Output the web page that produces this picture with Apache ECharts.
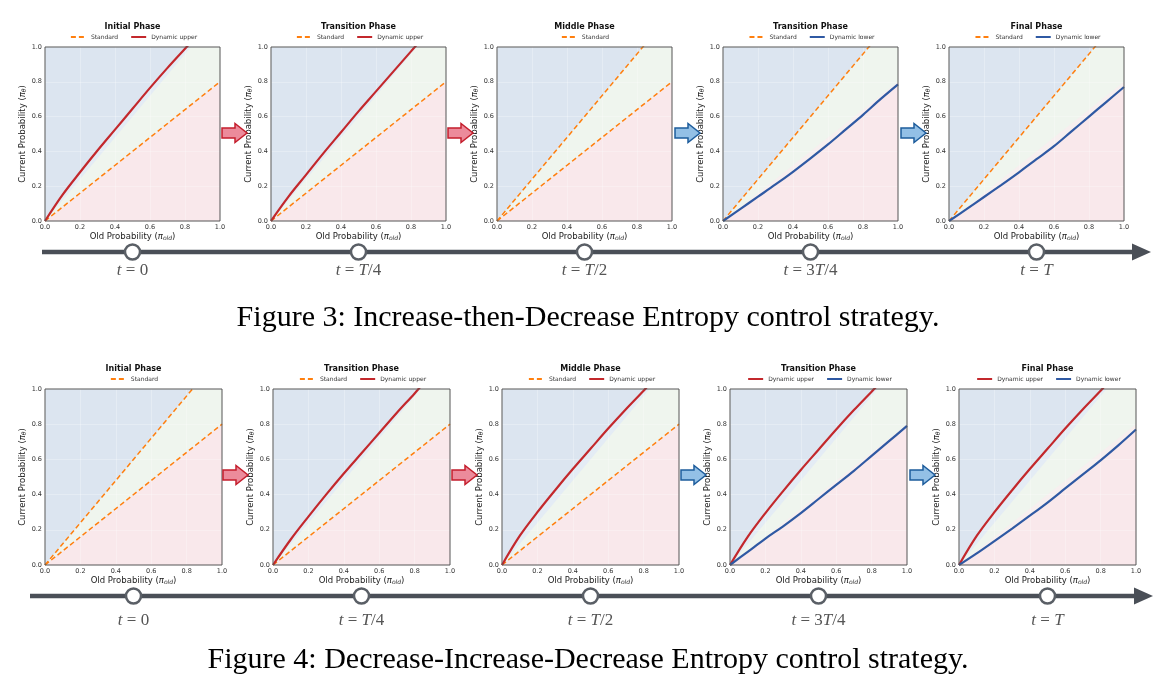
<!DOCTYPE html>
<html>
<head>
<meta charset="utf-8">
<title>Entropy control strategies</title>
<script src="https://cdn.jsdelivr.net/npm/echarts@6/dist/echarts.min.js"></script>
<style>
  html, body { margin: 0; padding: 0; background: #fff; }
  #main { width: 1170px; height: 693px; }
</style>
</head>
<body>
<div id="main"></div>
<script>
// x positions of the sampled curves (old probability)
var xs = [0, 0.1, 0.2, 0.3, 0.4, 0.5, 0.6, 0.7, 0.8, 0.9, 1.0];
// standard clip bounds, given by their end points at x = 0 and x = 1
var stdX = [0, 1];
var stdUpper = [0, 1.2];
var stdLower = [0, 0.8];

// dynamic upper bounds (red)
var upInitTop  = [0, 0.15, 0.28, 0.405, 0.525, 0.645, 0.765, 0.88, 0.99, 1.10, 1.2];
var upTransTop = [0, 0.14, 0.265, 0.39, 0.51, 0.63, 0.745, 0.86, 0.975, 1.09, 1.2];
var upTransBot = [0, 0.145, 0.275, 0.40, 0.52, 0.635, 0.75, 0.865, 0.975, 1.09, 1.2];
var upMidBot   = [0, 0.165, 0.30, 0.425, 0.545, 0.66, 0.775, 0.885, 0.99, 1.10, 1.2];
var upTrans2Bot = [0, 0.16, 0.295, 0.42, 0.54, 0.655, 0.77, 0.88, 0.985, 1.09, 1.2];
var upFinalBot = [0, 0.165, 0.30, 0.425, 0.545, 0.66, 0.775, 0.885, 0.99, 1.10, 1.2];

// dynamic lower bounds (blue)
var lowTransTop  = [0, 0.07, 0.14, 0.21, 0.283, 0.36, 0.44, 0.525, 0.61, 0.70, 0.785];
var lowFinalTop  = [0, 0.068, 0.138, 0.208, 0.28, 0.355, 0.43, 0.515, 0.60, 0.685, 0.77];
var lowTransBot  = [0, 0.075, 0.15, 0.22, 0.295, 0.375, 0.455, 0.535, 0.62, 0.705, 0.79];
var lowFinalBot  = [0, 0.066, 0.136, 0.207, 0.28, 0.355, 0.435, 0.515, 0.595, 0.68, 0.77];

var timeLabels = ['{i|t} = 0', '{i|t} = {i|T}/4', '{i|t} = {i|T}/2', '{i|t} = 3{i|T}/4', '{i|t} = {i|T}'];
var captions = [
  'Figure 3: Increase-then-Decrease Entropy control strategy.',
  'Figure 4: Decrease-Increase-Decrease Entropy control strategy.'
];

// panels: which bounds are drawn in each
var panels = [
  // Figure 3
  { title: 'Initial Phase', legend: ['Standard', 'Dynamic upper'], su: false, sl: true, up: upInitTop, low: null },
  { title: 'Transition Phase', legend: ['Standard', 'Dynamic upper'], su: false, sl: true, up: upTransTop, low: null },
  { title: 'Middle Phase', legend: ['Standard'], su: true, sl: true, up: null, low: null },
  { title: 'Transition Phase', legend: ['Standard', 'Dynamic lower'], su: true, sl: false, up: null, low: lowTransTop },
  { title: 'Final Phase', legend: ['Standard', 'Dynamic lower'], su: true, sl: false, up: null, low: lowFinalTop },
  // Figure 4
  { title: 'Initial Phase', legend: ['Standard'], su: true, sl: true, up: null, low: null },
  { title: 'Transition Phase', legend: ['Standard', 'Dynamic upper'], su: false, sl: true, up: upTransBot, low: null },
  { title: 'Middle Phase', legend: ['Standard', 'Dynamic upper'], su: false, sl: true, up: upMidBot, low: null },
  { title: 'Transition Phase', legend: ['Dynamic upper', 'Dynamic lower'], su: false, sl: false, up: upTrans2Bot, low: lowTransBot },
  { title: 'Final Phase', legend: ['Dynamic upper', 'Dynamic lower'], su: false, sl: false, up: upFinalBot, low: lowFinalBot }
];

// layout
var rows = [
  { lefts: [45, 271, 497, 723, 949], top: 47, w: 175, h: 174, titleTop: 23, legendTop: 34,
    lineY: 252, lineX0: 42, lineX1: 1134, tip: 1151, labelY: 271, capY: 318,
    arrows: [[222, 'r'], [448, 'r'], [675, 'b'], [901, 'b']], arrowY: 133 },
  { lefts: [45, 273, 502, 730, 959], top: 389, w: 177, h: 176, titleTop: 365, legendTop: 376,
    lineY: 596, lineX0: 30, lineX1: 1136, tip: 1153, labelY: 621, capY: 660,
    arrows: [[223, 'r'], [452, 'r'], [681, 'b'], [910, 'b']], arrowY: 475 }
];

var FONT = '"DejaVu Sans", sans-serif';
var SERIF = '"Liberation Serif", "Times New Roman", serif';
var C_BLUE_BG = '#dce5f0', C_BLUE_LT = '#e4ecf5', C_GREEN = '#eff5ee', C_PINK = '#f9e8eb', C_PINK_LT = '#f7efef';
var C_ORANGE = '#ff7f0e', C_RED = '#c3282c', C_BLUE = '#2f59a3';
var AXIS_C = '#4a4f57';

function pairs(x, y) {
  return x.map(function (v, i) { return [v, y[i]]; });
}

var measureCtx = document.createElement('canvas').getContext('2d');
function textWidth(s, size) {
  measureCtx.font = size + 'px "DejaVu Sans"';
  return measureCtx.measureText(s).width;
}

var grids = [], xAxes = [], yAxes = [], series = [], titles = [], legends = [], graphics = [];

panels.forEach(function (p, i) {
  var row = rows[i < 5 ? 0 : 1];
  var left = row.lefts[i % 5];
  var cx = left + row.w / 2;
  grids.push({ left: left, top: row.top, width: row.w, height: row.h, show: true, backgroundColor: C_BLUE_BG, borderWidth: 0 });

  var axisBase = {
    gridIndex: i, type: 'value', min: 0, max: 1, interval: 0.2, z: 3,
    axisLine: { show: false }, axisTick: { show: false },
    splitLine: { show: true, lineStyle: { color: 'rgba(255,255,255,0.45)', width: 0.6 } },
    axisLabel: { fontSize: 6.5, color: '#333', fontFamily: FONT, margin: 3, formatter: function (v) { return v.toFixed(1); } },
    nameLocation: 'middle',
    nameTextStyle: {
      fontSize: 8.5, color: '#222', fontFamily: FONT,
      rich: {
        pi: { fontSize: 8.5, fontStyle: 'italic', color: '#222', fontFamily: FONT },
        sub: { fontSize: 6, fontStyle: 'italic', color: '#222', fontFamily: FONT, padding: [4, 0, 0, 0] }
      }
    }
  };
  xAxes.push(Object.assign({}, axisBase, { name: 'Old Probability ({pi|π}{sub|old})', nameGap: 9 }));
  yAxes.push(Object.assign({}, axisBase, { name: 'Current Probability ({pi|π}{sub|θ})', nameGap: 14 }));

  function fill(data, color, smooth) {
    series.push({
      type: 'line', name: '_fill', xAxisIndex: i, yAxisIndex: i, data: data, symbol: 'none', silent: true,
      smooth: smooth ? 0.35 : false,
      lineStyle: { width: 0 }, areaStyle: { color: color, opacity: 1 }, z: 1, clip: true
    });
  }
  // regions: blue above upper bound, green between, pink below
  if (p.up) fill(pairs(xs, p.up), C_BLUE_LT, true);
  fill(pairs(stdX, stdUpper), C_GREEN, false);
  if (p.low) {
    fill(pairs(stdX, stdLower), C_PINK_LT, false);
    fill(pairs(xs, p.low), C_PINK, true);
  } else {
    fill(pairs(stdX, stdLower), C_PINK, false);
  }

  function line(name, data, color, dashed) {
    series.push({
      type: 'line', name: name, xAxisIndex: i, yAxisIndex: i, data: data, symbol: 'none', silent: true,
      smooth: dashed ? false : 0.35,
      lineStyle: { color: color, width: dashed ? 1.5 : 2.2, type: dashed ? [5, 3] : 'solid' },
      itemStyle: { color: color }, z: 5, clip: true
    });
  }
  if (p.su) line('Standard', pairs(stdX, stdUpper), C_ORANGE, true);
  if (p.sl) line('Standard', pairs(stdX, stdLower), C_ORANGE, true);
  if (p.up) line('Dynamic upper', pairs(xs, p.up), C_RED, false);
  if (p.low) line('Dynamic lower', pairs(xs, p.low), C_BLUE, false);

  titles.push({
    text: p.title, left: cx, top: row.titleTop, textAlign: 'center', padding: 0,
    textStyle: { fontSize: 8, fontWeight: 'bold', color: '#111', fontFamily: FONT }
  });

  var lw = 0;
  p.legend.forEach(function (n, k) { lw += 15 + 5 + textWidth(n, 6) + (k ? 12 : 0); });
  legends.push({
    data: p.legend, left: cx - lw / 2, top: row.legendTop, padding: 0, selectedMode: false,
    itemWidth: 15, itemHeight: 6, itemGap: 12,
    itemStyle: { opacity: 0 },
    textStyle: { fontSize: 6, color: '#333', fontFamily: FONT }
  });

  // frame around the axes
  graphics.push({
    type: 'rect', z: 100, silent: true,
    shape: { x: left, y: row.top, width: row.w, height: row.h },
    style: { fill: null, stroke: '#555', lineWidth: 1 }
  });
});

// arrows between panels, timelines and captions
rows.forEach(function (row, r) {
  row.arrows.forEach(function (a) {
    var x0 = a[0], yc = row.arrowY;
    graphics.push({
      type: 'polygon', z: 100, silent: true,
      shape: { points: [[x0, yc - 5], [x0 + 13, yc - 5], [x0 + 13, yc - 9.5], [x0 + 25, yc], [x0 + 13, yc + 9.5], [x0 + 13, yc + 5], [x0, yc + 5]] },
      style: a[1] === 'r' ? { fill: '#ec8b9b', stroke: '#c41e2c', lineWidth: 1.5 } : { fill: '#93c0e6', stroke: '#1d5c9c', lineWidth: 1.5 }
    });
  });
  graphics.push({
    type: 'line', z: 100, silent: true,
    shape: { x1: row.lineX0, y1: row.lineY, x2: row.lineX1, y2: row.lineY },
    style: { stroke: AXIS_C, lineWidth: 4.5 }
  });
  graphics.push({
    type: 'polygon', z: 100, silent: true,
    shape: { points: [[row.lineX1 - 2, row.lineY - 8.5], [row.tip, row.lineY], [row.lineX1 - 2, row.lineY + 8.5]] },
    style: { fill: AXIS_C }
  });
  row.lefts.forEach(function (left, k) {
    var cx = left + row.w / 2;
    graphics.push({
      type: 'circle', z: 101, silent: true,
      shape: { cx: cx, cy: row.lineY, r: 7.5 },
      style: { fill: '#fff', stroke: '#5a5f66', lineWidth: 2.5 }
    });
    graphics.push({
      type: 'text', z: 101, silent: true, x: cx, y: row.labelY,
      style: {
        text: timeLabels[k], align: 'center', verticalAlign: 'middle',
        fontSize: 17, fontFamily: SERIF, fill: '#555',
        rich: { i: { fontStyle: 'italic', fontSize: 17, fontFamily: SERIF, fill: '#555' } }
      }
    });
  });
  graphics.push({
    type: 'text', z: 101, silent: true, x: 588, y: row.capY,
    style: { text: captions[r], align: 'center', verticalAlign: 'middle', fontSize: 30, fontFamily: SERIF, fill: '#000' }
  });
});

var myChart = echarts.init(document.getElementById('main'));
myChart.setOption({
  animation: false,
  backgroundColor: '#fff',
  title: titles,
  legend: legends,
  grid: grids,
  xAxis: xAxes,
  yAxis: yAxes,
  series: series,
  graphic: graphics
});
</script>
</body>
</html>
